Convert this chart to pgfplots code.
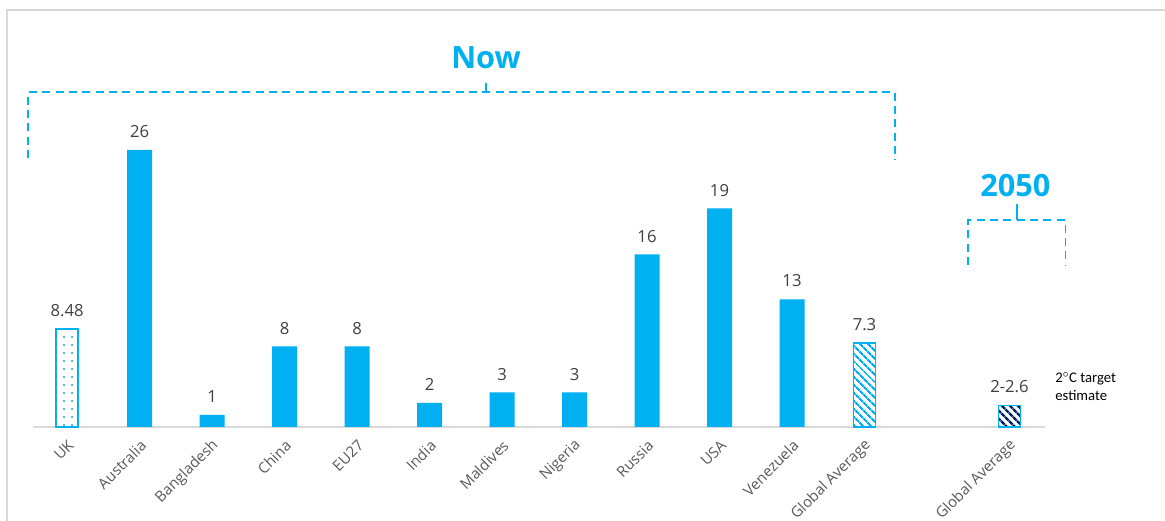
\documentclass[border=0pt]{standalone}
\usepackage{fontspec}
\setmainfont{Open Sans}
\newfontfamily\carlito{Carlito}
\usepackage{pgfplots}
\pgfplotsset{compat=1.18}
\usetikzlibrary{patterns.meta}

\definecolor{barblue}{RGB}{0,176,240}
\definecolor{navy}{RGB}{0,32,96}
\definecolor{labgray}{RGB}{64,64,64}
\definecolor{tickgray}{RGB}{89,89,89}
\definecolor{framegray}{RGB}{217,217,217}

\def\u{0.75pt}

\begin{document}
\begin{tikzpicture}
\begin{axis}[
    name=main,
    scale only axis,
    width=759pt, height=312.75pt,
    xmin=-0.47, xmax=13.49,
    ymin=0, ymax=36.26,
    clip=false,
    axis x line=bottom,
    axis y line=none,
    x axis line style={-, draw=framegray, line width=1.2pt},
    major tick length=0pt,
    xtick={0,1,2,3,4,5,6,7,8,9,10,11,13},
    xticklabels={UK, Australia, Bangladesh, China, EU27, India, Maldives, Nigeria, Russia, USA, Venezuela, Global Average, Global Average},
    xticklabel style={rotate=45, anchor=east, yshift=-10.5pt, xshift=-3pt,
        font=\fontsize{11.2}{14}\selectfont, text=tickgray},
    ybar, bar shift=0pt,
    nodes near coords,
    point meta=explicit symbolic,
    nodes near coords style={font=\fontsize{12.5}{14}\selectfont, text=labgray, inner sep=4pt, yshift=5pt},
]
% countries, now (bar height, printed label)
\addplot[draw=none, fill=barblue, bar width=0.345] table[meta=label] {
x y label
1 24.1 26
2 1.05 1
3 7.0 8
4 7.0 8
5 2.1 2
6 3.0 3
7 3.0 3
8 15.0 16
9 19.0 19
10 11.1 13
};
% UK
\addplot[draw=barblue, line width=1.1pt, fill=white, bar width=0.30,
    postaction={pattern={Dots[distance=6pt, radius=0.85pt]}, pattern color=barblue}]
    table[meta=label] {
x y label
0 8.52 8.48
};
% global average now
\addplot[draw=barblue, line width=1.1pt, fill=white, bar width=0.30,
    postaction={pattern={Lines[angle=-45, distance=4pt, line width=1.7pt]}, pattern color=barblue}]
    table[meta=label] {
x y label
11 7.3 7.3
};
% global average 2050
\addplot[draw=barblue, line width=1.1pt, fill=white, bar width=0.30,
    postaction={pattern={Lines[angle=-45, distance=4pt, line width=1.9pt]}, pattern color=navy}]
    table[meta=label] {
x y label
13 1.85 2-2.6
};

% brackets
\draw[barblue, line width=1.2pt, dash pattern=on 6pt off 4pt]
    (axis cs:-0.538,23.4) -- (axis cs:-0.538,29.13) -- (axis cs:11.42,29.13) -- (axis cs:11.42,23.2);
\draw[barblue, line width=1.2pt] (axis cs:5.78,29.13) -- (axis cs:5.78,29.9);
\node[text=barblue, font=\fontsize{23}{26}\bfseries] at (axis cs:5.78,32.1) {Now};

\draw[barblue, line width=1.2pt, dash pattern=on 6pt off 4pt]
    (axis cs:12.43,14.1) -- (axis cs:12.43,18.0) -- (axis cs:13.77,18.0) -- (axis cs:13.77,14.1);
\draw[barblue, line width=1.2pt] (axis cs:13.10,18.0) -- (axis cs:13.10,19.4);
\node[text=barblue, font=\fontsize{23}{26}\bfseries] at (axis cs:13.08,21.0) {2050};

\node[anchor=north west, align=left, font=\carlito\fontsize{11}{13}\selectfont, text=black, inner sep=0pt]
    at (axis cs:13.63,4.75) {2$^{\circ}$C target\\estimate};

% page frame
\draw[framegray, line width=1.5pt] (axis cs:-0.828,-8.2) -- (axis cs:-0.828,36.26) -- (axis cs:15.2,36.26);
\coordinate (bl) at (axis cs:-0.47,0);
\end{axis}
\pgfresetboundingbox
\path[use as bounding box] ([shift={(-33*\u,-94*\u)}]bl) rectangle ([shift={(1132*\u,427*\u)}]bl);
\end{tikzpicture}
\end{document}
